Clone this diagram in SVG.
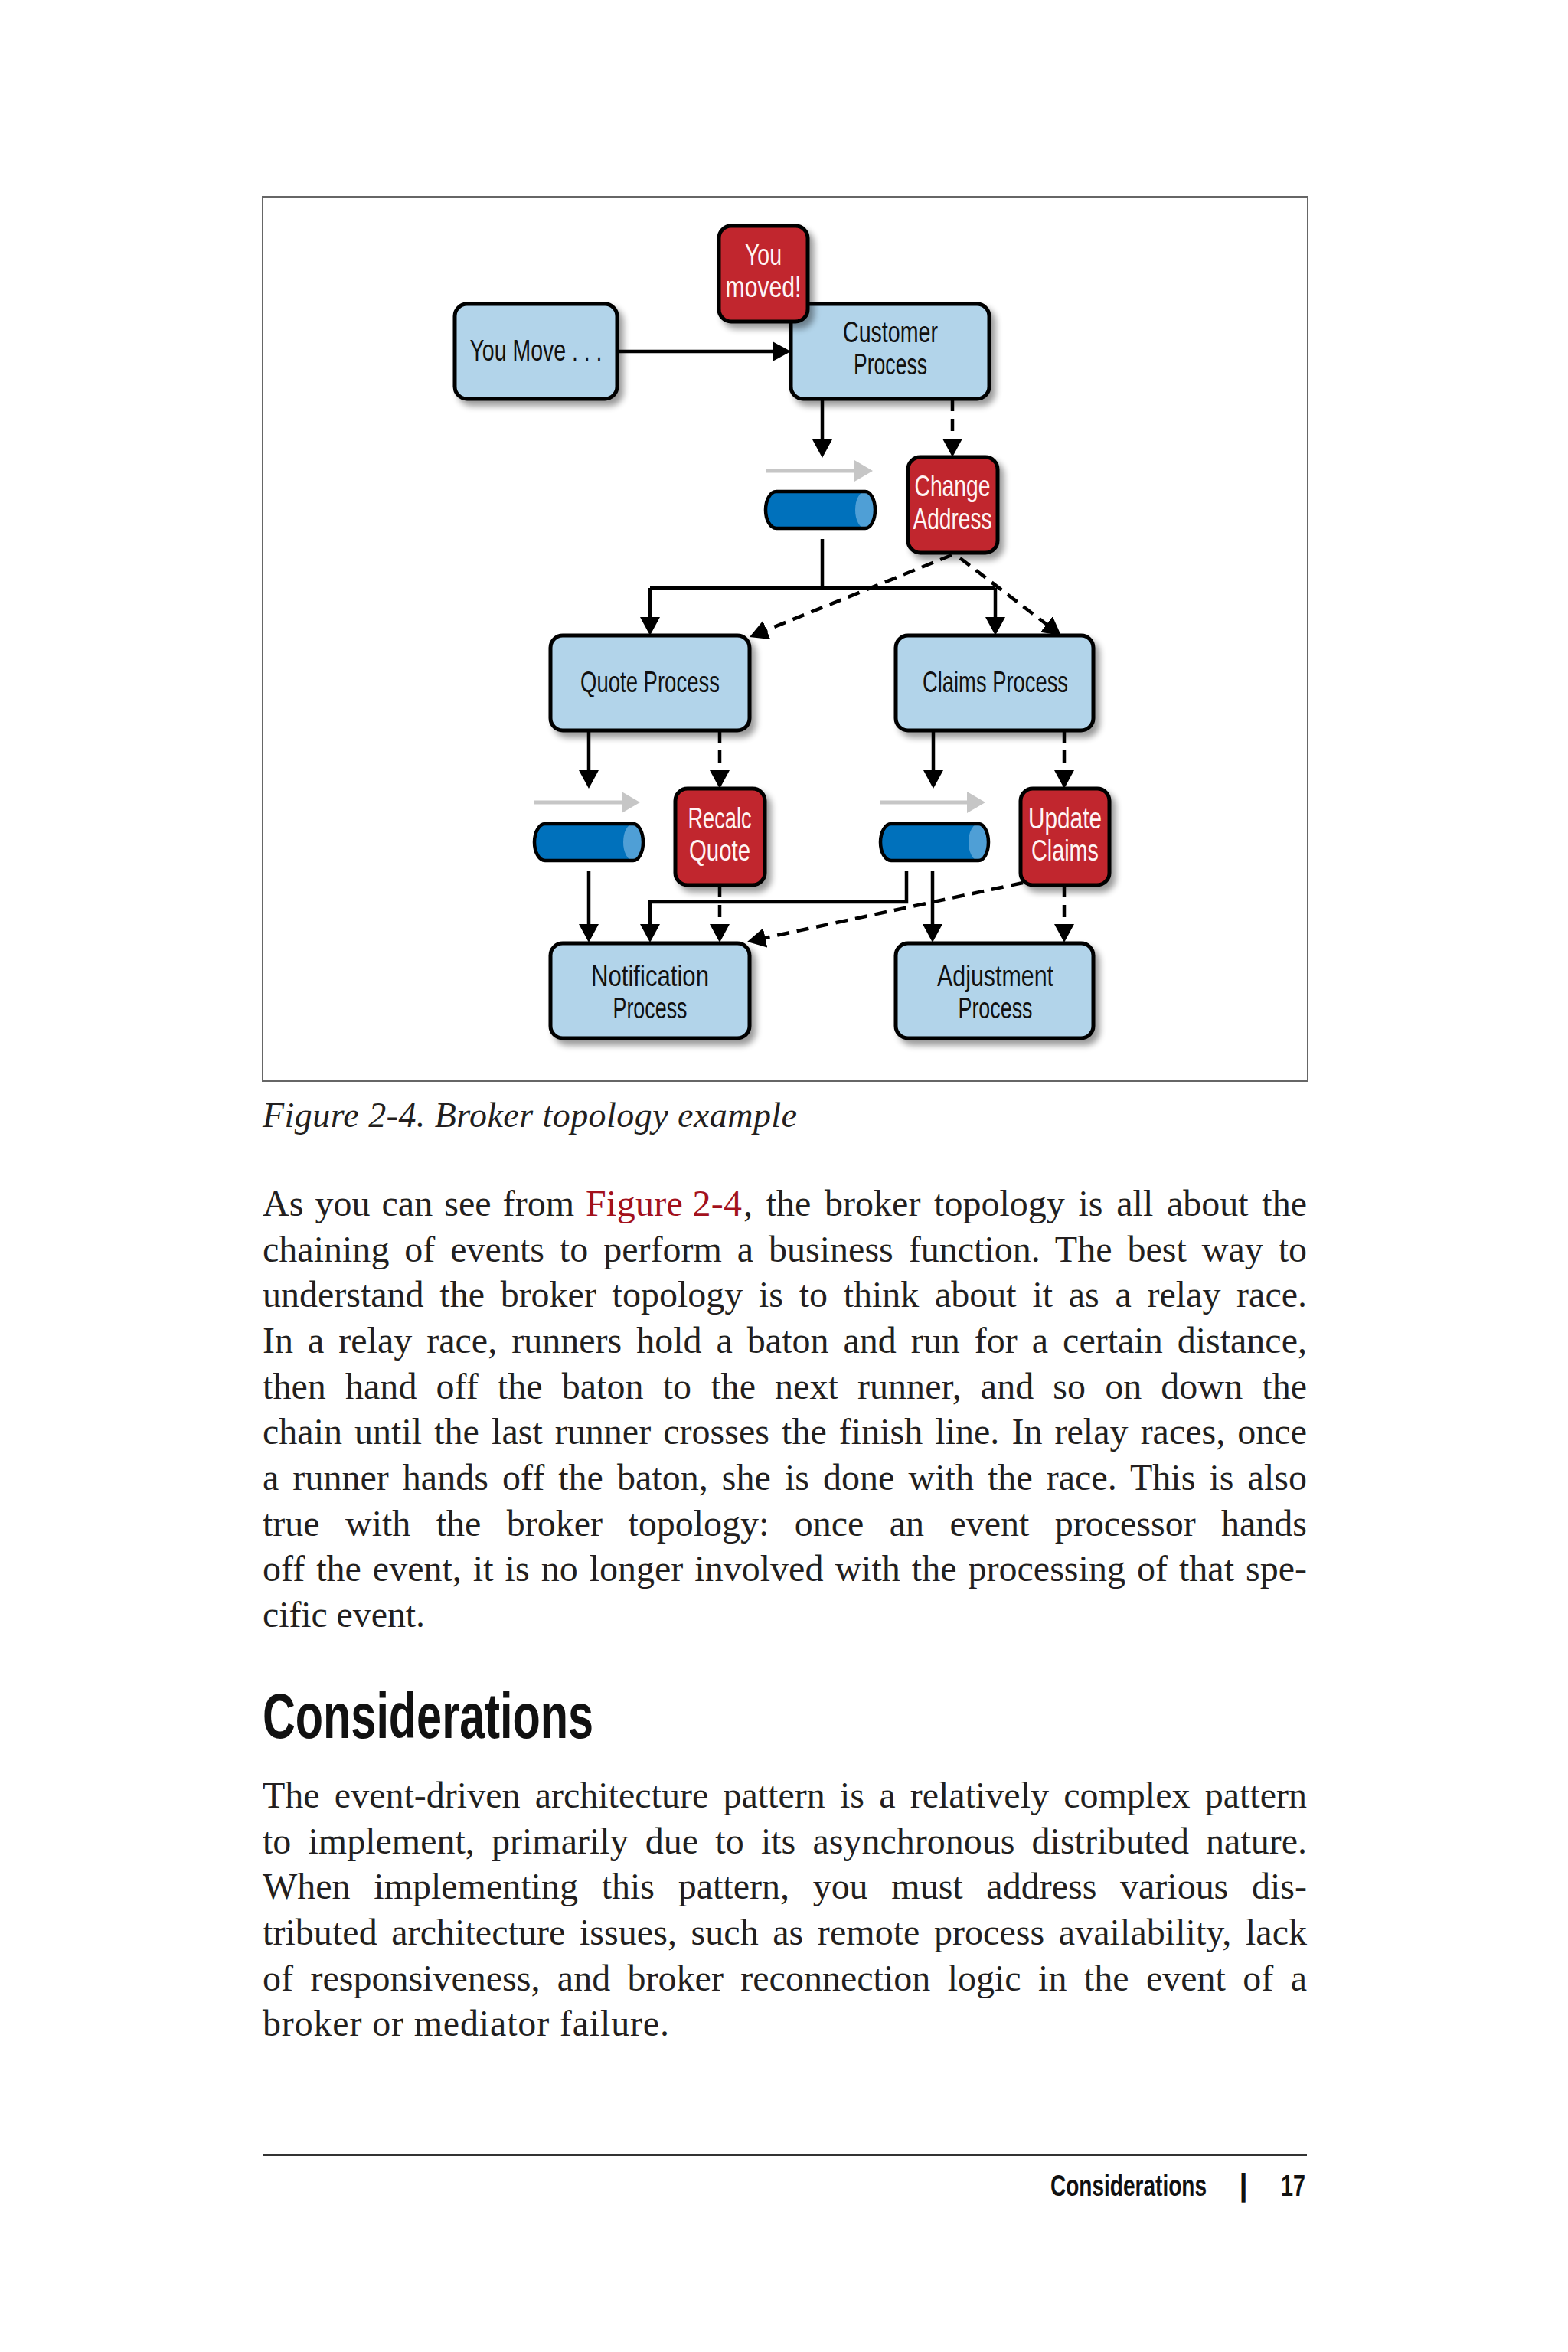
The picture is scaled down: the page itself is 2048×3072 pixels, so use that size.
<svg xmlns="http://www.w3.org/2000/svg" width="2048" height="3072" viewBox="0 0 2048 3072">
<style>
.bx{fill:#b2d4ea;stroke:#000;stroke-width:5;filter:url(#sh)}
.rd{fill:#c1272d;stroke:#000;stroke-width:5;filter:url(#sh)}
.lb{font-family:"Liberation Sans Narrow","Liberation Sans",Arial,sans-serif;font-size:38px;fill:#111;text-anchor:middle}
.lw{font-family:"Liberation Sans Narrow","Liberation Sans",Arial,sans-serif;font-size:38px;fill:#fff4f4;text-anchor:middle}
.cyl{fill:#0071bc}
.cylf{fill:#4f9fd6}
.cyls{fill:none;stroke:#000;stroke-width:4.5}
.ln{fill:none;stroke:#000;stroke-width:4.5;marker-end:url(#ah)}
.pl{fill:none;stroke:#000;stroke-width:4.5}
.dl{fill:none;stroke:#000;stroke-width:4.5;stroke-dasharray:16 10;marker-end:url(#ah)}
.gl{fill:none;stroke:#c6c6c6;stroke-width:5;marker-end:url(#gh)}
.body{font-family:"Liberation Serif","Times New Roman",serif;font-size:48px;fill:#231f20}
.lnk{fill:#a3111c}
.cap{font-family:"Liberation Serif","Times New Roman",serif;font-size:46px;font-style:italic;fill:#231f20}
.hd{font-family:"Liberation Sans Narrow","Liberation Sans",Arial,sans-serif;font-weight:bold;fill:#111}
</style>
<defs>
<filter id="sh" x="-15%" y="-15%" width="140%" height="140%">
<feGaussianBlur in="SourceAlpha" stdDeviation="4"/>
<feOffset dx="6" dy="7" result="o"/>
<feComponentTransfer><feFuncA type="linear" slope="0.4"/></feComponentTransfer>
<feMerge><feMergeNode/><feMergeNode in="SourceGraphic"/></feMerge>
</filter>
<marker id="ah" viewBox="0 0 24 26" refX="18" refY="13" markerWidth="24" markerHeight="26" markerUnits="userSpaceOnUse" orient="auto">
<path d="M0,0 L24,13 L0,26 Z" fill="#000"/>
</marker>
<marker id="gh" viewBox="0 0 24 28" refX="18" refY="14" markerWidth="24" markerHeight="28" markerUnits="userSpaceOnUse" orient="auto">
<path d="M0,0 L24,14 L0,28 Z" fill="#c6c6c6"/>
</marker>
</defs>
<rect x="0" y="0" width="2048" height="3072" fill="#fff"/>
<rect x="343" y="257" width="1365" height="1155" fill="#fff" stroke="#666" stroke-width="2"/>

<g id="connectors">
<line class="ln" x1="806" y1="459" x2="1027" y2="459"/>
<line class="ln" x1="1074" y1="521" x2="1074" y2="592"/>
<line class="dl" x1="1244" y1="521" x2="1244" y2="591"/>
<line class="gl" x1="1000" y1="615" x2="1134" y2="615"/>
<path class="pl" d="M1074,704 V768 M849,768 H1300"/>
<line class="ln" x1="849" y1="768" x2="849" y2="824"/>
<line class="ln" x1="1300" y1="768" x2="1300" y2="824"/>
<line class="dl" x1="1243" y1="725" x2="984.6" y2="829.7"/>
<line class="dl" x1="1254" y1="729" x2="1381.2" y2="826.4"/>
<line class="ln" x1="769" y1="954" x2="769" y2="1024"/>
<line class="dl" x1="940" y1="954" x2="940" y2="1024"/>
<line class="gl" x1="698" y1="1048" x2="830" y2="1048"/>
<line class="ln" x1="1219" y1="954" x2="1219" y2="1024"/>
<line class="dl" x1="1390" y1="954" x2="1390" y2="1024"/>
<line class="gl" x1="1150" y1="1048" x2="1281" y2="1048"/>
<line class="ln" x1="769" y1="1138" x2="769" y2="1225"/>
<path class="ln" d="M1184,1137 V1178 H849 V1225"/>
<line class="ln" x1="1218" y1="1137" x2="1218" y2="1225"/>
<line class="dl" x1="940" y1="1156" x2="940" y2="1225"/>
<line class="dl" x1="1336" y1="1153" x2="981.9" y2="1228.7"/>
<line class="dl" x1="1390" y1="1156" x2="1390" y2="1225"/>
</g>

<g id="youmove">
<rect class="bx" x="594" y="397" width="212" height="124" rx="16"/>
<text class="lb" x="700" y="471" textLength="173" lengthAdjust="spacingAndGlyphs">You Move . . .</text>
</g>
<g id="customer">
<rect class="bx" x="1033" y="397" width="259" height="124" rx="16"/>
<text class="lb" x="1163" y="447" textLength="124" lengthAdjust="spacingAndGlyphs">Customer</text>
<text class="lb" x="1163" y="489" textLength="96" lengthAdjust="spacingAndGlyphs">Process</text>
</g>
<g id="youmoved">
<rect class="rd" x="939" y="295" width="116" height="125" rx="16"/>
<text class="lw" x="997" y="346" textLength="48" lengthAdjust="spacingAndGlyphs">You</text>
<text class="lw" x="997" y="388" textLength="99" lengthAdjust="spacingAndGlyphs">moved!</text>
</g>
<g id="changeaddress">
<rect class="rd" x="1186" y="597" width="117" height="125" rx="16"/>
<text class="lw" x="1244" y="648" textLength="99" lengthAdjust="spacingAndGlyphs">Change</text>
<text class="lw" x="1244" y="691" textLength="103" lengthAdjust="spacingAndGlyphs">Address</text>
</g>
<g id="queue1">
<path class="cyl" d="M1014,642 H1130 A13,24 0 0 1 1130,690 H1014 A14,24 0 0 1 1014,642 Z"/>
<ellipse class="cylf" cx="1130" cy="666" rx="13" ry="24"/>
<path class="cyls" d="M1014,642 H1130 A13,24 0 0 1 1130,690 H1014 A14,24 0 0 1 1014,642 Z"/>
</g>
<g id="quote">
<rect class="bx" x="719" y="830" width="260" height="124" rx="16"/>
<text class="lb" x="849" y="904" textLength="182" lengthAdjust="spacingAndGlyphs">Quote Process</text>
</g>
<g id="claims">
<rect class="bx" x="1170" y="830" width="258" height="124" rx="16"/>
<text class="lb" x="1300" y="904" textLength="190" lengthAdjust="spacingAndGlyphs">Claims Process</text>
</g>
<g id="recalc">
<rect class="rd" x="882" y="1030" width="117" height="126" rx="16"/>
<text class="lw" x="940" y="1082" textLength="83" lengthAdjust="spacingAndGlyphs">Recalc</text>
<text class="lw" x="940" y="1124" textLength="80" lengthAdjust="spacingAndGlyphs">Quote</text>
</g>
<g id="queue2">
<path class="cyl" d="M712,1076 H827 A13,24 0 0 1 827,1124 H712 A14,24 0 0 1 712,1076 Z"/>
<ellipse class="cylf" cx="827" cy="1100" rx="13" ry="24"/>
<path class="cyls" d="M712,1076 H827 A13,24 0 0 1 827,1124 H712 A14,24 0 0 1 712,1076 Z"/>
</g>
<g id="update">
<rect class="rd" x="1333" y="1030" width="116" height="126" rx="16"/>
<text class="lw" x="1391" y="1082" textLength="96" lengthAdjust="spacingAndGlyphs">Update</text>
<text class="lw" x="1391" y="1124" textLength="88" lengthAdjust="spacingAndGlyphs">Claims</text>
</g>
<g id="queue3">
<path class="cyl" d="M1164,1076 H1278 A13,24 0 0 1 1278,1124 H1164 A14,24 0 0 1 1164,1076 Z"/>
<ellipse class="cylf" cx="1278" cy="1100" rx="13" ry="24"/>
<path class="cyls" d="M1164,1076 H1278 A13,24 0 0 1 1278,1124 H1164 A14,24 0 0 1 1164,1076 Z"/>
</g>
<g id="notification">
<rect class="bx" x="719" y="1232" width="260" height="124" rx="16"/>
<text class="lb" x="849" y="1288" textLength="154" lengthAdjust="spacingAndGlyphs">Notification</text>
<text class="lb" x="849" y="1330" textLength="97" lengthAdjust="spacingAndGlyphs">Process</text>
</g>
<g id="adjustment">
<rect class="bx" x="1170" y="1232" width="258" height="124" rx="16"/>
<text class="lb" x="1300" y="1288" textLength="152" lengthAdjust="spacingAndGlyphs">Adjustment</text>
<text class="lb" x="1300" y="1330" textLength="97" lengthAdjust="spacingAndGlyphs">Process</text>
</g>

<g id="page-text">
<text class="cap" x="343" y="1472" textLength="698" lengthAdjust="spacing">Figure 2-4. Broker topology example</text>
<text class="body" x="343" y="1588" word-spacing="3" textLength="407" lengthAdjust="spacing">As you can see from</text>
<text class="body lnk" x="765" y="1588" textLength="204" lengthAdjust="spacing">Figure 2-4</text>
<text class="body" x="971" y="1588" word-spacing="5.7" textLength="736" lengthAdjust="spacing">, the broker topology is all about the</text>
<text class="body" x="343" y="1647.7" word-spacing="7.9" textLength="1364" lengthAdjust="spacing">chaining of events to perform a business function. The best way to</text>
<text class="body" x="343" y="1707.3" word-spacing="8.7" textLength="1364" lengthAdjust="spacing">understand the broker topology is to think about it as a relay race.</text>
<text class="body" x="343" y="1767" word-spacing="7" textLength="1364" lengthAdjust="spacing">In a relay race, runners hold a baton and run for a certain distance,</text>
<text class="body" x="343" y="1826.7" word-spacing="13" textLength="1364" lengthAdjust="spacing">then hand off the baton to the next runner, and so on down the</text>
<text class="body" x="343" y="1886.3" word-spacing="4.1" textLength="1364" lengthAdjust="spacing">chain until the last runner crosses the finish line. In relay races, once</text>
<text class="body" x="343" y="1946" word-spacing="6" textLength="1364" lengthAdjust="spacing">a runner hands off the baton, she is done with the race. This is also</text>
<text class="body" x="343" y="2005.7" word-spacing="21.4" textLength="1364" lengthAdjust="spacing">true with the broker topology: once an event processor hands</text>
<text class="body" x="343" y="2065.3" word-spacing="3" textLength="1364" lengthAdjust="spacing">off the event, it is no longer involved with the processing of that spe-</text>
<text class="body" x="343" y="2125" textLength="212" lengthAdjust="spacing">cific event.</text>
<text class="hd" x="343" y="2270" font-size="84" textLength="432" lengthAdjust="spacingAndGlyphs">Considerations</text>
<text class="body" x="343" y="2361" word-spacing="7.2" textLength="1364" lengthAdjust="spacing">The event-driven architecture pattern is a relatively complex pattern</text>
<text class="body" x="343" y="2420.7" word-spacing="10.2" textLength="1364" lengthAdjust="spacing">to implement, primarily due to its asynchronous distributed nature.</text>
<text class="body" x="343" y="2480.3" word-spacing="18.7" textLength="1364" lengthAdjust="spacing">When implementing this pattern, you must address various dis-</text>
<text class="body" x="343" y="2540" word-spacing="6.5" textLength="1364" lengthAdjust="spacing">tributed architecture issues, such as remote process availability, lack</text>
<text class="body" x="343" y="2599.7" word-spacing="10.4" textLength="1364" lengthAdjust="spacing">of responsiveness, and broker reconnection logic in the event of a</text>
<text class="body" x="343" y="2659.3" textLength="531" lengthAdjust="spacing">broker or mediator failure.</text>
</g>

<g id="footer">
<line x1="343" y1="2815" x2="1707" y2="2815" stroke="#333" stroke-width="2"/>
<text class="hd" x="1372" y="2868" font-size="39" textLength="204" lengthAdjust="spacingAndGlyphs">Considerations</text>
<text class="hd" x="1624" y="2868" font-size="40" text-anchor="middle">|</text>
<text class="hd" x="1673" y="2868" font-size="39" textLength="32" lengthAdjust="spacingAndGlyphs">17</text>
</g>
</svg>
